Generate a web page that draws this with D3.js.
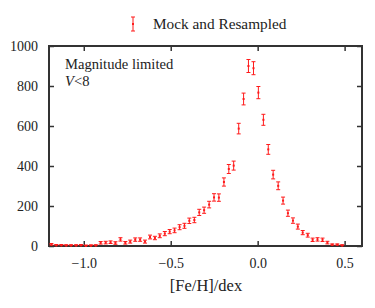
<!DOCTYPE html>
<html>
<head>
<meta charset="utf-8">
<script src="https://cdn.jsdelivr.net/npm/d3@7"></script>
<style>
  body { margin: 0; background: #fff; }
  svg text { font-family: "Liberation Serif", "DejaVu Serif", serif; fill: #222; }
</style>
</head>
<body>
<svg id="chart"></svg>
<script>
const width = 375;
const height = 308;

// bin centres, [Fe/H] in dex
const feh = [
  -1.186, -1.158, -1.129, -1.101, -1.073, -1.044, -1.016, -0.988, -0.959, -0.931,
  -0.903, -0.874, -0.846, -0.818, -0.789, -0.761, -0.733, -0.704, -0.676, -0.648,
  -0.619, -0.591, -0.563, -0.534, -0.506, -0.478, -0.449, -0.421, -0.393, -0.364,
  -0.336, -0.308, -0.279, -0.251, -0.223, -0.194, -0.166, -0.138, -0.109, -0.081,
  -0.053, -0.024, 0.004, 0.033, 0.061, 0.089, 0.118, 0.146, 0.174, 0.203,
  0.231, 0.259, 0.288, 0.316, 0.344, 0.373, 0.401, 0.429, 0.458, 0.486
];
// counts per bin
const counts = [
  7, 3, 3, 2, 2, 2, 3, 0, 1, 2,
  16, 17, 19, 15, 33, 16, 22, 32, 32, 22,
  45, 40, 51, 62, 72, 78, 94, 101, 126, 130,
  168, 179, 207, 243, 242, 320, 385, 402, 587, 735,
  900, 889, 767, 631, 483, 357, 301, 227, 164, 127,
  97, 67, 54, 31, 33, 31, 17, 6, 6, 2
];
// error bar half-lengths
const errors = [
  3, 2, 2, 1, 1, 1, 2, 0, 1, 1,
  4, 4, 4, 4, 6, 4, 5, 6, 6, 5,
  7, 6, 7, 8, 8, 9, 10, 10, 11, 11,
  13, 13, 14, 16, 16, 18, 20, 20, 24, 27,
  30, 30, 28, 25, 22, 19, 17, 15, 13, 11,
  10, 8, 7, 6, 6, 6, 4, 2, 2, 1
];

const xTicks = [-1.0, -0.5, 0.0, 0.5];
const yTicks = [0, 200, 400, 600, 800, 1000];
const seriesName = "Mock and Resampled";
const red = "#ff1a1a";
const serif = '"Liberation Serif", "DejaVu Serif", serif';

const margin = { left: 49, right: 13, top: 46, bottom: 62 };

const svg = d3.select("#chart")
    .attr("width", width)
    .attr("height", height);

const x = d3.scaleLinear()
    .domain([-1.2, 0.6])
    .range([margin.left, width - margin.right]);

const y = d3.scaleLinear()
    .domain([0, 1000])
    .range([height - margin.bottom, margin.top]);

const fmtX = d => d3.format(".1f")(d).replace("-", "\u2212");

// axes, ticks pointing inward on all four sides
const bottomAxis = d3.axisBottom(x).tickValues(xTicks).tickSizeInner(-5).tickSizeOuter(0).tickFormat(fmtX).tickPadding(12);
const topAxis = d3.axisTop(x).tickValues(xTicks).tickSizeInner(-5).tickSizeOuter(0).tickFormat("");
const leftAxis = d3.axisLeft(y).tickValues(yTicks).tickSizeInner(-5).tickSizeOuter(0).tickFormat(d3.format("d")).tickPadding(11);
const rightAxis = d3.axisRight(y).tickValues(yTicks).tickSizeInner(-5).tickSizeOuter(0).tickFormat("");

function styleAxis(sel) {
    sel.attr("font-family", null).attr("font-size", null);
    sel.select(".domain").remove();
    sel.selectAll(".tick line").attr("stroke", "#333").attr("stroke-width", 1.5);
    sel.selectAll(".tick text")
        .style("font-size", "14px")
        .style("font-family", serif)
        .attr("fill", "#222");
}

svg.append("g").attr("transform", `translate(0,${y(0)})`).call(bottomAxis).call(styleAxis);
svg.append("g").attr("transform", `translate(0,${y(1000)})`).call(topAxis).call(styleAxis);
svg.append("g").attr("transform", `translate(${x(-1.2)},0)`).call(leftAxis).call(styleAxis);
svg.append("g").attr("transform", `translate(${x(0.6)},0)`).call(rightAxis).call(styleAxis);

// frame
svg.append("rect")
    .attr("x", x(-1.2))
    .attr("y", y(1000))
    .attr("width", x(0.6) - x(-1.2))
    .attr("height", y(0) - y(1000))
    .attr("fill", "none")
    .attr("stroke", "#333")
    .attr("stroke-width", 2);

// error bars
const pts = feh.map((f, i) => ({ f, c: counts[i], e: errors[i] }));
const cap = 2;

const bars = svg.append("g").attr("stroke", red).attr("stroke-width", 1);

bars.selectAll("line.v")
    .data(pts)
    .enter().append("line")
    .attr("class", "v")
    .attr("x1", d => x(d.f)).attr("x2", d => x(d.f))
    .attr("y1", d => y(d.c - d.e) + 0.5).attr("y2", d => y(d.c + d.e) - 0.5);

bars.selectAll("line.lo")
    .data(pts)
    .enter().append("line")
    .attr("class", "lo")
    .attr("x1", d => x(d.f) - cap).attr("x2", d => x(d.f) + cap)
    .attr("y1", d => Math.min(y(d.c - d.e) + 0.5, y(0) - 1)).attr("y2", d => Math.min(y(d.c - d.e) + 0.5, y(0) - 1));

bars.selectAll("line.hi")
    .data(pts)
    .enter().append("line")
    .attr("class", "hi")
    .attr("x1", d => x(d.f) - cap).attr("x2", d => x(d.f) + cap)
    .attr("y1", d => y(d.c + d.e) - 0.5).attr("y2", d => y(d.c + d.e) - 0.5);

svg.append("g").selectAll("rect")
    .data(pts)
    .enter().append("rect")
    .attr("x", d => x(d.f) - 1)
    .attr("y", d => y(d.c) - 1)
    .attr("width", 2)
    .attr("height", 2)
    .attr("fill", red);

// legend
const lx = 133, ly = 24;
const leg = svg.append("g").attr("stroke", red).attr("stroke-width", 1);
leg.append("line").attr("x1", lx).attr("x2", lx).attr("y1", ly - 7).attr("y2", ly + 7);
leg.append("line").attr("x1", lx - cap).attr("x2", lx + cap).attr("y1", ly - 7).attr("y2", ly - 7);
leg.append("line").attr("x1", lx - cap).attr("x2", lx + cap).attr("y1", ly + 7).attr("y2", ly + 7);
leg.append("rect").attr("x", lx - 1).attr("y", ly - 1).attr("width", 2).attr("height", 2).attr("fill", red).attr("stroke", "none");

svg.append("text")
    .attr("x", 153)
    .attr("y", 29)
    .style("font-size", "15.3px")
    .text(seriesName);

// annotation
svg.append("text")
    .attr("x", 65)
    .attr("y", 69)
    .style("font-size", "14.6px")
    .text("Magnitude limited");

const vt = svg.append("text")
    .attr("x", 65)
    .attr("y", 85.5)
    .style("font-size", "14.6px");
vt.append("tspan").attr("font-style", "italic").text("V");
vt.append("tspan").text("<8");

// x axis title
svg.append("text")
    .attr("x", 206)
    .attr("y", 291)
    .attr("text-anchor", "middle")
    .style("font-size", "16.5px")
    .text("[Fe/H]/dex");
</script>
</body>
</html>
